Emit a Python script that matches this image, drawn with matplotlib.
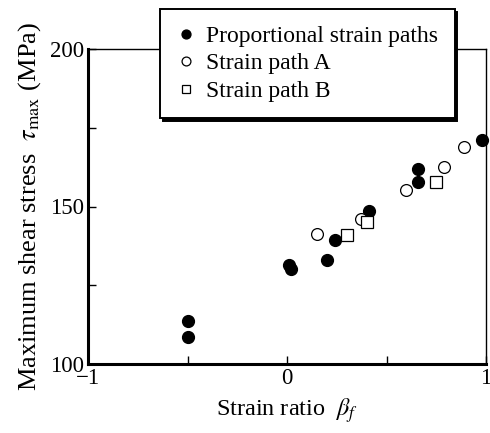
import matplotlib
matplotlib.use("Agg")
import matplotlib.pyplot as plt

plt.rcParams['font.family'] = ['Liberation Serif', 'DejaVu Serif']
plt.rcParams['mathtext.fontset'] = 'stix'

prop_x = [-0.5, -0.5, 0.01, 0.02, 0.2, 0.24, 0.41, 0.66, 0.66, 0.98]
prop_y = [113.7, 108.6, 131.4, 130.2, 133.0, 139.4, 148.6, 161.9, 157.8, 171.0]
a_x = [0.15, 0.37, 0.60, 0.79, 0.89]
a_y = [141.3, 146.0, 155.2, 162.5, 169.0]
b_x = [0.30, 0.40, 0.75]
b_y = [141.0, 145.0, 157.8]

fig = plt.figure(figsize=(4.9, 4.33), dpi=100)
ax = fig.add_axes([88/490, 1-364/433, (486-88)/490, (364-49)/433])

ax.plot(prop_x, prop_y, 'o', ms=8.5, mfc='black', mec='black', label='Proportional strain paths', clip_on=False, zorder=3)
ax.plot(a_x, a_y, 'o', ms=8.5, mfc='white', mec='black', mew=0.9, label='Strain path A', clip_on=False, zorder=3)
ax.plot(b_x, b_y, 's', ms=8, mfc='white', mec='black', mew=0.9, label='Strain path B', clip_on=False, zorder=3)

ax.set_xlim(-1, 1)
ax.set_ylim(100, 200)
ax.set_xticks([-1, 0, 1])
ax.set_xticklabels(['\u22121', '0', '1'])
ax.set_xticks([-0.5, 0.5], minor=True)
ax.set_yticks([100, 150, 200])
ax.set_yticks([125, 175], minor=True)
ax.tick_params(which='both', direction='in', labelsize=16.5, width=1)
ax.tick_params(which='major', length=6, pad=3)
ax.tick_params(which='minor', length=6)
ax.spines['left'].set_linewidth(2.2)
ax.spines['bottom'].set_linewidth(2.2)
ax.spines['top'].set_linewidth(1)
ax.spines['right'].set_linewidth(1)

ax.set_xlabel(r'Strain ratio  $\beta_f$', fontsize=17.5, labelpad=5)
ax.set_ylabel(r'Maximum shear stress  $\tau_{\max}$ (MPa)', fontsize=19, labelpad=5)

leg = fig.legend(loc='upper left', bbox_to_anchor=(160/490, 1-9/433), fontsize=17,
                 fancybox=False, shadow={'color': 'black', 'alpha': 1}, edgecolor='black',
                 framealpha=1, handletextpad=0.45, borderpad=0.7, labelspacing=0.25,
                 handlelength=0.8, markerscale=0.75, borderaxespad=0)
leg.get_frame().set_linewidth(1.4)

fig.savefig('out.png', dpi=100)
